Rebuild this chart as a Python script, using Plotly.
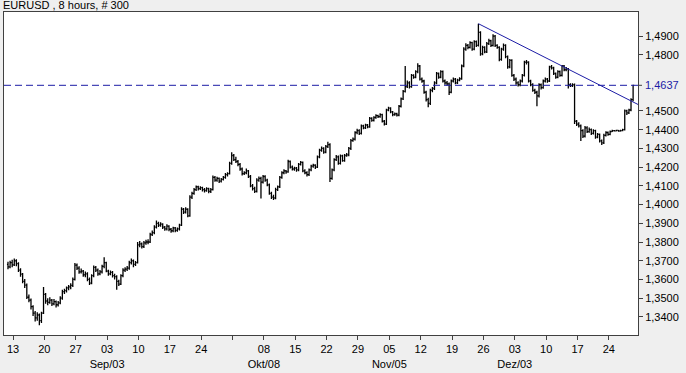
import plotly.graph_objects as go

title_text = "EURUSD , 8 hours, # 300"

opens = [1.3680,1.3667,1.3690,1.3678,1.3700,1.3685,1.3650,1.3628,1.3590,1.3570,
1.3505,1.3490,1.3455,1.3420,1.3395,1.3410,1.3380,1.3420,1.3520,1.3485,
1.3478,1.3490,1.3470,1.3482,1.3465,1.3475,1.3500,1.3535,1.3540,1.3555,
1.3560,1.3568,1.3600,1.3676,1.3660,1.3640,1.3645,1.3625,1.3630,1.3600,
1.3580,1.3620,1.3665,1.3650,1.3630,1.3640,1.3670,1.3690,1.3645,1.3630,
1.3638,1.3620,1.3615,1.3590,1.3575,1.3620,1.3650,1.3655,1.3660,1.3690,
1.3700,1.3680,1.3690,1.3785,1.3790,1.3775,1.3795,1.3800,1.3800,1.3840,
1.3850,1.3880,1.3900,1.3890,1.3895,1.3880,1.3870,1.3885,1.3868,1.3860,
1.3875,1.3862,1.3870,1.3890,1.3975,1.3960,1.3975,1.3940,1.4040,1.4060,
1.4080,1.4095,1.4085,1.4090,1.4080,1.4075,1.4085,1.4070,1.4080,1.4145,
1.4130,1.4140,1.4125,1.4135,1.4145,1.4160,1.4165,1.4220,1.4262,1.4240,
1.4230,1.4215,1.4190,1.4165,1.4170,1.4180,1.4150,1.4100,1.4085,1.4070,
1.4130,1.4140,1.4120,1.4150,1.4130,1.4105,1.4060,1.4040,1.4035,1.4080,
1.4095,1.4145,1.4170,1.4180,1.4175,1.4230,1.4200,1.4190,1.4195,1.4185,
1.4215,1.4225,1.4180,1.4170,1.4160,1.4185,1.4205,1.4210,1.4200,1.4255,
1.4290,1.4300,1.4280,1.4310,1.4320,1.4140,1.4185,1.4240,1.4255,1.4220,
1.4260,1.4235,1.4262,1.4265,1.4300,1.4342,1.4350,1.4385,1.4395,1.4380,
1.4420,1.4410,1.4425,1.4415,1.4460,1.4450,1.4465,1.4475,1.4470,1.4480,
1.4445,1.4430,1.4505,1.4515,1.4495,1.4480,1.4485,1.4478,1.4525,1.4565,
1.4605,1.4630,1.4650,1.4630,1.4690,1.4680,1.4710,1.4740,1.4670,1.4660,
1.4600,1.4560,1.4540,1.4610,1.4620,1.4650,1.4700,1.4680,1.4710,1.4660,
1.4650,1.4645,1.4600,1.4660,1.4670,1.4650,1.4665,1.4672,1.4740,1.4830,
1.4850,1.4840,1.4865,1.4830,1.4870,1.4850,1.4920,1.4805,1.4840,1.4815,
1.4860,1.4875,1.4850,1.4900,1.4850,1.4840,1.4775,1.4830,1.4850,1.4790,
1.4735,1.4770,1.4690,1.4670,1.4650,1.4640,1.4660,1.4690,1.4760,1.4760,
1.4660,1.4640,1.4610,1.4600,1.4580,1.4640,1.4625,1.4660,1.4670,1.4660,
1.4735,1.4730,1.4700,1.4680,1.4710,1.4690,1.4740,1.4720,1.4725,1.4640,
1.4635,1.4640,1.4445,1.4430,1.4420,1.4395,1.4365,1.4410,1.4390,1.4400,
1.4380,1.4395,1.4360,1.4375,1.4340,1.4330,1.4370,1.4385,1.4375,1.4390,
1.4395,1.4394,1.4396,1.4393,1.4395,1.4400,1.4500,1.4490,1.4505,1.4560]

highs = [1.3695,1.3700,1.3705,1.3712,1.3708,1.3692,1.3660,1.3635,1.3602,1.3578,
1.3520,1.3498,1.3462,1.3432,1.3425,1.3418,1.3428,1.3560,1.3528,1.3500,
1.3505,1.3496,1.3495,1.3488,1.3485,1.3510,1.3545,1.3550,1.3562,1.3570,
1.3580,1.3610,1.3688,1.3685,1.3670,1.3658,1.3650,1.3642,1.3638,1.3610,
1.3628,1.3675,1.3672,1.3658,1.3650,1.3678,1.3718,1.3695,1.3652,1.3648,
1.3645,1.3630,1.3622,1.3598,1.3628,1.3660,1.3665,1.3672,1.3700,1.3712,
1.3706,1.3698,1.3800,1.3805,1.3798,1.3805,1.3812,1.3815,1.3850,1.3862,
1.3890,1.3915,1.3908,1.3905,1.3900,1.3885,1.3895,1.3890,1.3875,1.3882,
1.3880,1.3878,1.3898,1.3985,1.3982,1.3985,1.3980,1.4050,1.4068,1.4088,
1.4102,1.4100,1.4098,1.4095,1.4088,1.4092,1.4090,1.4088,1.4155,1.4152,
1.4148,1.4145,1.4142,1.4152,1.4168,1.4172,1.4228,1.4280,1.4270,1.4255,
1.4238,1.4222,1.4198,1.4178,1.4192,1.4185,1.4158,1.4110,1.4095,1.4140,
1.4150,1.4148,1.4158,1.4156,1.4138,1.4112,1.4068,1.4052,1.4090,1.4102,
1.4152,1.4178,1.4188,1.4185,1.4240,1.4236,1.4208,1.4202,1.4200,1.4222,
1.4232,1.4230,1.4188,1.4178,1.4192,1.4212,1.4218,1.4215,1.4262,1.4298,
1.4310,1.4306,1.4318,1.4335,1.4328,1.4192,1.4248,1.4265,1.4262,1.4268,
1.4266,1.4270,1.4275,1.4308,1.4350,1.4358,1.4392,1.4405,1.4402,1.4428,
1.4426,1.4432,1.4430,1.4468,1.4466,1.4472,1.4482,1.4480,1.4488,1.4485,
1.4452,1.4512,1.4522,1.4520,1.4500,1.4492,1.4490,1.4532,1.4572,1.4612,
1.4740,1.4662,1.4658,1.4698,1.4696,1.4718,1.4755,1.4746,1.4678,1.4666,
1.4608,1.4570,1.4618,1.4628,1.4658,1.4708,1.4706,1.4718,1.4716,1.4668,
1.4660,1.4652,1.4668,1.4678,1.4676,1.4672,1.4680,1.4748,1.4840,1.4862,
1.4858,1.4872,1.4870,1.4878,1.4876,1.4966,1.4926,1.4848,1.4846,1.4868,
1.4885,1.4880,1.4910,1.4906,1.4856,1.4846,1.4838,1.4860,1.4856,1.4796,
1.4778,1.4776,1.4698,1.4678,1.4658,1.4668,1.4698,1.4768,1.4772,1.4766,
1.4666,1.4648,1.4618,1.4608,1.4648,1.4646,1.4668,1.4678,1.4676,1.4742,
1.4745,1.4736,1.4706,1.4718,1.4716,1.4745,1.4746,1.4735,1.4730,1.4648,
1.4648,1.4646,1.4452,1.4440,1.4428,1.4402,1.4420,1.4418,1.4412,1.4406,
1.4402,1.4400,1.4382,1.4380,1.4348,1.4378,1.4392,1.4390,1.4396,1.4400,
1.4398,1.4399,1.4398,1.4399,1.4405,1.4508,1.4506,1.4512,1.4568,1.4640]

lows = [1.3655,1.3660,1.3665,1.3672,1.3670,1.3640,1.3615,1.3580,1.3555,1.3495,
1.3478,1.3440,1.3405,1.3375,1.3380,1.3356,1.3368,1.3415,1.3470,1.3462,
1.3470,1.3458,1.3462,1.3450,1.3455,1.3468,1.3492,1.3522,1.3530,1.3542,
1.3548,1.3560,1.3595,1.3650,1.3630,1.3632,1.3615,1.3612,1.3590,1.3570,
1.3575,1.3612,1.3640,1.3620,1.3622,1.3632,1.3660,1.3638,1.3620,1.3622,
1.3610,1.3600,1.3545,1.3565,1.3570,1.3612,1.3640,1.3645,1.3652,1.3680,
1.3665,1.3672,1.3685,1.3772,1.3765,1.3768,1.3785,1.3788,1.3795,1.3832,
1.3842,1.3872,1.3880,1.3882,1.3870,1.3860,1.3862,1.3858,1.3850,1.3852,
1.3852,1.3855,1.3862,1.3885,1.3950,1.3952,1.3932,1.3935,1.4030,1.4052,
1.4072,1.4075,1.4078,1.4070,1.4065,1.4068,1.4060,1.4062,1.4075,1.4122,
1.4122,1.4115,1.4118,1.4128,1.4138,1.4150,1.4160,1.4212,1.4232,1.4222,
1.4205,1.4180,1.4155,1.4158,1.4162,1.4142,1.4092,1.4075,1.4062,1.4065,
1.4122,1.4032,1.4112,1.4122,1.4098,1.4052,1.4030,1.4025,1.4028,1.4072,
1.4088,1.4138,1.4162,1.4165,1.4170,1.4192,1.4182,1.4180,1.4175,1.4178,
1.4208,1.4172,1.4162,1.4150,1.4152,1.4178,1.4196,1.4190,1.4195,1.4248,
1.4282,1.4272,1.4274,1.4302,1.4120,1.4132,1.4178,1.4232,1.4212,1.4214,
1.4228,1.4228,1.4255,1.4258,1.4292,1.4335,1.4342,1.4376,1.4372,1.4374,
1.4402,1.4404,1.4408,1.4410,1.4442,1.4444,1.4458,1.4462,1.4464,1.4438,
1.4422,1.4425,1.4498,1.4488,1.4472,1.4474,1.4470,1.4472,1.4518,1.4558,
1.4598,1.4622,1.4620,1.4624,1.4672,1.4674,1.4702,1.4662,1.4650,1.4592,
1.4550,1.4520,1.4532,1.4600,1.4612,1.4642,1.4672,1.4674,1.4652,1.4640,
1.4636,1.4585,1.4594,1.4652,1.4642,1.4644,1.4658,1.4666,1.4734,1.4822,
1.4830,1.4834,1.4822,1.4824,1.4842,1.4844,1.4795,1.4798,1.4808,1.4810,
1.4852,1.4842,1.4844,1.4842,1.4832,1.4765,1.4768,1.4822,1.4782,1.4725,
1.4728,1.4682,1.4660,1.4640,1.4630,1.4632,1.4652,1.4684,1.4748,1.4652,
1.4632,1.4602,1.4590,1.4525,1.4572,1.4615,1.4618,1.4652,1.4650,1.4654,
1.4722,1.4692,1.4672,1.4674,1.4682,1.4684,1.4712,1.4712,1.4620,1.4628,
1.4628,1.4430,1.4420,1.4412,1.4340,1.4355,1.4358,1.4382,1.4384,1.4372,
1.4374,1.4352,1.4354,1.4332,1.4318,1.4324,1.4364,1.4368,1.4370,1.4388,
1.4390,1.4391,1.4389,1.4390,1.4392,1.4396,1.4478,1.4484,1.4498,1.4552]

closes = opens[1:] + [1.4637]

week_labels = ["13", "20", "27", "03", "10", "17", "24", "", "08", "15",
               "22", "29", "05", "12", "19", "26", "03", "10", "17", "24"]
month_label_at = {3: "Sep/03", 8: "Okt/08", 12: "Nov/05", 16: "Dez/03"}
bars_per_week = 15
first_week_bar = 2.4

price_ticks = [1.34, 1.35, 1.36, 1.37, 1.38, 1.39, 1.40, 1.41, 1.42, 1.43, 1.44, 1.45, 1.48, 1.49]
last_price = 1.4637
trend_p1 = (225, 1.4966)
trend_p2 = (265, 1.4740)

x_range = [-1.91, 301.34]
y_range = [1.33033, 1.50285]

n = len(closes)
xs = list(range(n))

fig = go.Figure()
fig.add_trace(go.Ohlc(
    x=xs, open=opens, high=highs, low=lows, close=closes,
    increasing=dict(line=dict(color="black", width=1.3)),
    decreasing=dict(line=dict(color="black", width=1.3)),
    tickwidth=0.5, hoverinfo="skip", showlegend=False,
))

tickvals = [first_week_bar + bars_per_week * k for k in range(len(week_labels))]
ticktext = []
for k, lab in enumerate(week_labels):
    if k in month_label_at:
        ticktext.append(lab + "<br>" + month_label_at[k])
    else:
        ticktext.append(lab)

FONT = "Liberation Sans, Arial, sans-serif"
line_col = "#404040"
blue = "#1c1ca6"

slope = (trend_p2[1] - trend_p1[1]) / (trend_p2[0] - trend_p1[0])
x_end = x_range[1]
fig.add_shape(type="line", xref="x", yref="y",
              x0=trend_p1[0], y0=trend_p1[1],
              x1=x_end, y1=trend_p1[1] + slope * (x_end - trend_p1[0]),
              line=dict(color=blue, width=1))
fig.add_shape(type="line", xref="paper", yref="y", x0=0, x1=1,
              y0=last_price, y1=last_price,
              line=dict(color=blue, width=1, dash="7px,4px"))
fig.add_shape(type="line", xref="paper", yref="y", x0=1, x1=1 + 4 / 635,
              y0=last_price, y1=last_price, line=dict(color=line_col, width=1))

fig.add_annotation(xref="paper", yref="y", x=1, y=last_price, xanchor="left",
                   yanchor="middle", xshift=5, showarrow=False,
                   text=f"{last_price:.4f}".replace(".", ","),
                   font=dict(family=FONT, size=11, color=blue))
fig.add_annotation(xref="paper", yref="paper", x=0, y=1, xanchor="left",
                   yanchor="bottom", xshift=-3, yshift=-1, showarrow=False,
                   text=title_text, font=dict(family=FONT, size=11, color="black"))

fig.update_layout(
    width=686, height=373,
    margin=dict(l=3, r=48, t=12, b=32),
    paper_bgcolor="#efefef", plot_bgcolor="white",
    font=dict(family=FONT, size=11, color="black"),
    showlegend=False,
    xaxis=dict(range=x_range, rangeslider=dict(visible=False),
               tickmode="array", tickvals=tickvals, ticktext=ticktext,
               ticks="outside", ticklen=4, tickcolor=line_col,
               showgrid=False, zeroline=False,
               showline=True, linecolor=line_col, linewidth=1, mirror=True,
               tickfont=dict(family=FONT, size=11, color="black")),
    yaxis=dict(range=y_range, side="right", tickmode="array",
               tickvals=price_ticks,
               ticktext=[f"{v:.4f}".replace(".", ",") for v in price_ticks],
               ticks="outside", ticklen=4, tickcolor=line_col,
               showgrid=False, zeroline=False,
               showline=True, linecolor=line_col, linewidth=1, mirror=True,
               tickfont=dict(family=FONT, size=11, color="black")),
)

fig.write_html("out.html")
